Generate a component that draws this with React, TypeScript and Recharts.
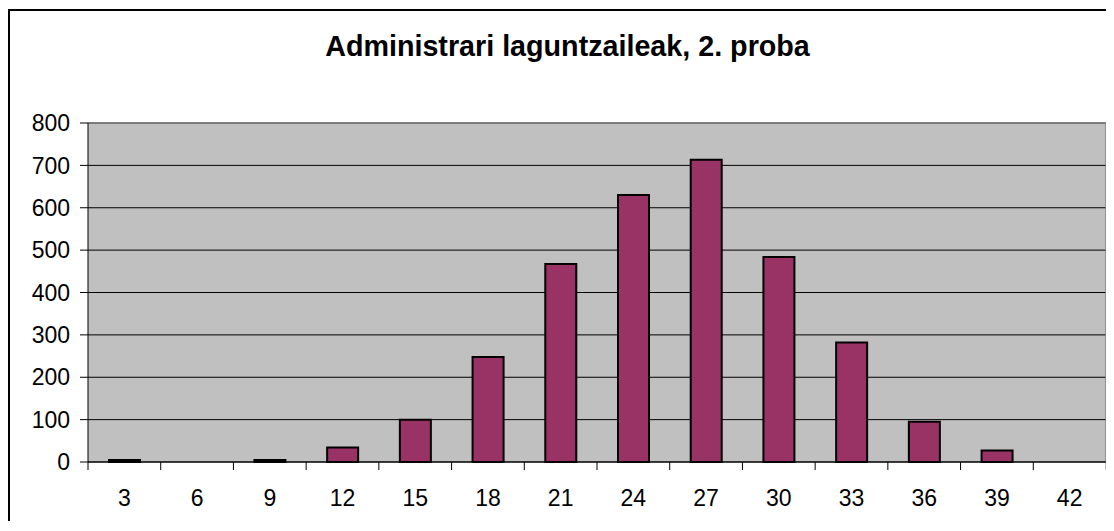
import React from 'react'
import { BarChart, Bar, XAxis, YAxis, CartesianGrid, ReferenceLine } from 'recharts'

const scores = [3, 6, 9, 12, 15, 18, 21, 24, 27, 30, 33, 36, 39, 42]
const counts = [5, 0, 5, 34, 100, 248, 467, 630, 713, 484, 282, 95, 27, 0]
const yTicks = [0, 100, 200, 300, 400, 500, 600, 700, 800]
const title = 'Administrari laguntzaileak, 2. proba'

const data = scores.map((score, i) => ({ score, count: counts[i] }))
// category boundaries, where Excel puts its x tick marks
const edgeTicks = [...scores.map(s => s - 1.5), scores[scores.length - 1] + 1.5]
const xDomain = [edgeTicks[0], edgeTicks[edgeTicks.length - 1]]
const tickDepth = -19 // tick mark length below the axis, in y units (~8px)

const font = '"Liberation Sans", Arial, sans-serif'

export default function App() {
  return (
    <div
      style={{
        position: 'relative',
        marginTop: 1,
        width: 1104,
        height: 510,
        borderLeft: '2px solid #000',
        borderTop: '2px solid #000',
        fontFamily: font,
      }}
    >
      <div
        style={{
          position: 'absolute',
          top: 21.4,
          left: 557.5,
          transform: 'translateX(-50%)',
          whiteSpace: 'nowrap',
          fontSize: 28.7,
          lineHeight: 1,
          fontWeight: 'bold',
          color: '#000',
        }}
      >
        {title}
      </div>
      <BarChart
        width={1104}
        height={510}
        data={data}
        margin={{ top: 112, right: 8, left: 0, bottom: 0 }}
        style={{ position: 'absolute', left: 0, top: 0 }}
      >
        <CartesianGrid
          vertical={false}
          stroke="#000"
          fill="#c0c0c0"
          fillOpacity={1}
        />
        <XAxis
          type="number"
          dataKey="score"
          domain={xDomain}
          ticks={scores}
          tickLine={false}
          axisLine={{ stroke: '#000' }}
          tickSize={0}
          tickMargin={28}
          height={59}
          interval={0}
          allowDataOverflow
          tick={{ fill: '#000', fontSize: 23, fontFamily: font }}
        />
        <YAxis
          domain={[0, 800]}
          ticks={yTicks}
          width={78}
          tickSize={8}
          tickMargin={10}
          interval={0}
          tickLine={{ stroke: '#000' }}
          axisLine={{ stroke: '#000' }}
          tick={{ fill: '#000', fontSize: 23, fontFamily: font }}
        />
        <ReferenceLine y={800} stroke="#808080" strokeWidth={1.5} />
        <ReferenceLine x={xDomain[1]} stroke="#808080" strokeWidth={1.5} />
        {edgeTicks.map(e => (
          <ReferenceLine
            key={e}
            segment={[{ x: e, y: 0 }, { x: e, y: tickDepth }]}
            stroke={e === xDomain[1] ? '#808080' : '#000'}
            ifOverflow="visible"
          />
        ))}
        <Bar
          dataKey="count"
          fill="#993366"
          stroke="#000"
          strokeWidth={2}
          barSize={31}
          isAnimationActive={false}
        />
      </BarChart>
    </div>
  )
}
